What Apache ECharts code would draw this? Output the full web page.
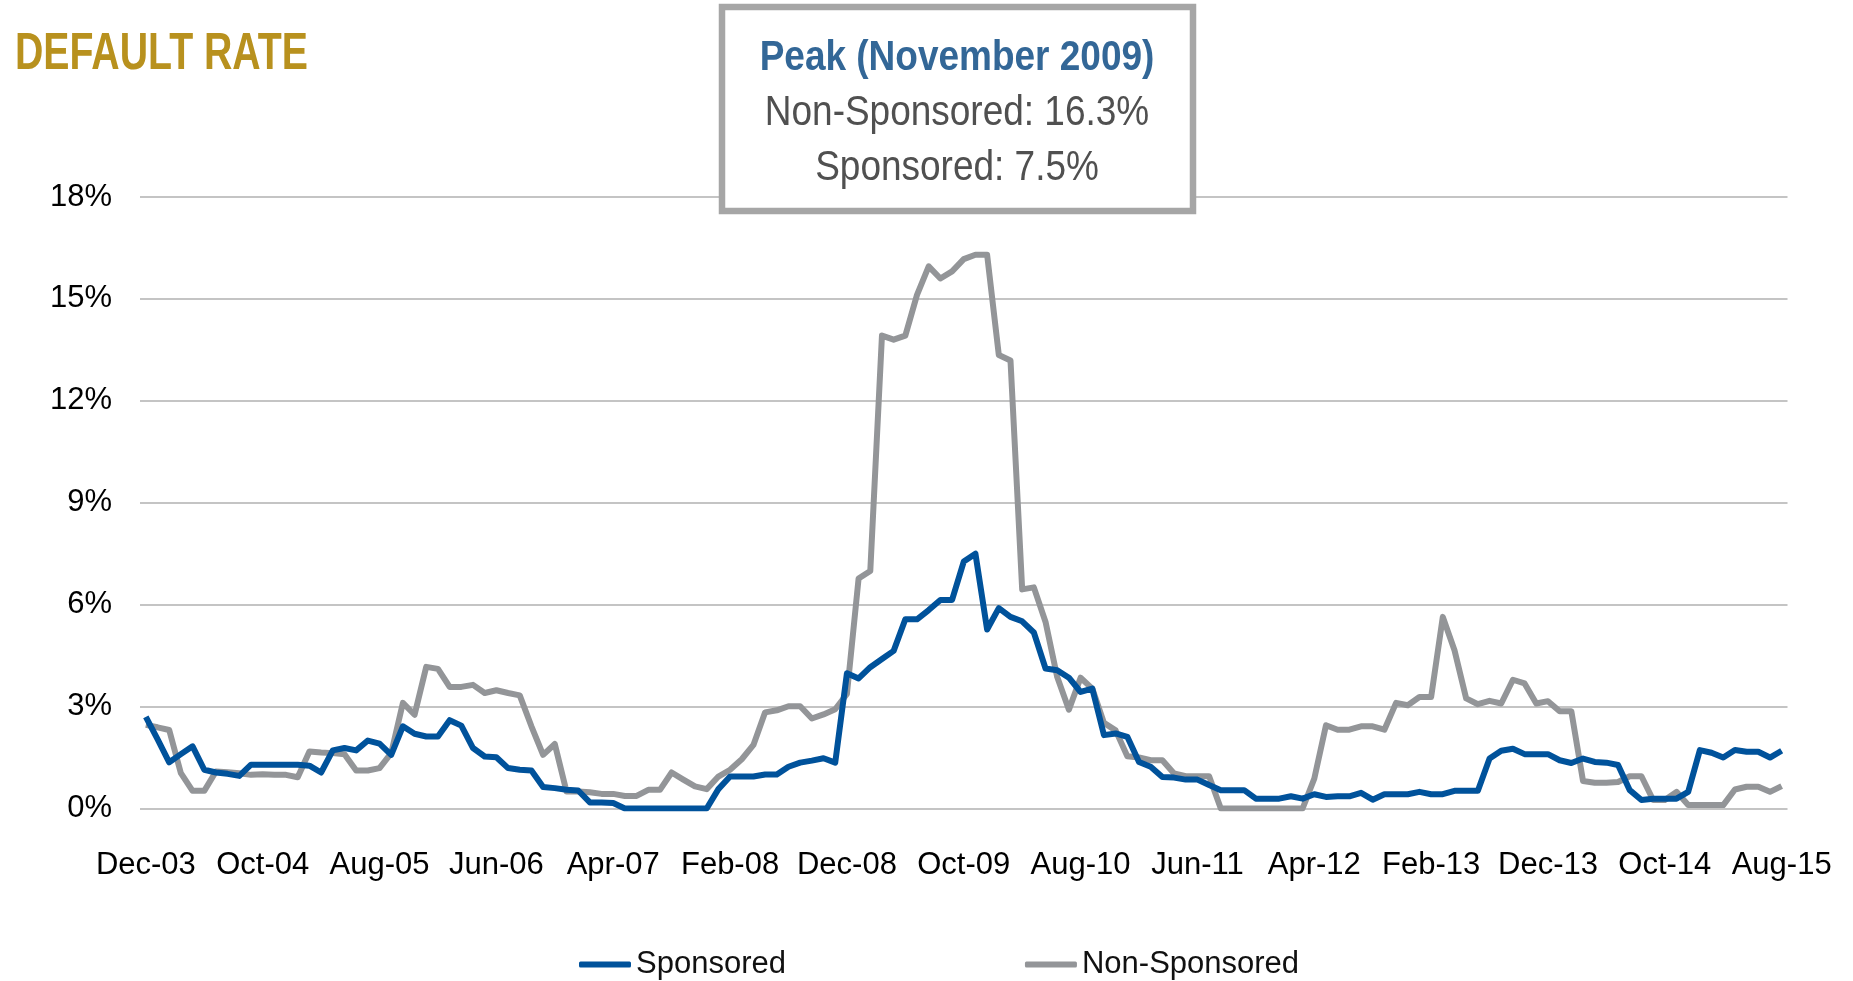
<!DOCTYPE html>
<html>
<head>
<meta charset="utf-8">
<title>Default Rate</title>
<script src="https://cdn.jsdelivr.net/npm/echarts@6/dist/echarts.min.js"></script>
<style>
  html, body { margin: 0; padding: 0; background: #fff; }
  #main { width: 1853px; height: 981px; }
</style>
</head>
<body>
<div id="main"></div>
<script>
// monthly categories, Dec-03 .. Aug-15
var monthNames = ['Jan','Feb','Mar','Apr','May','Jun','Jul','Aug','Sep','Oct','Nov','Dec'];
var months = [];
for (var k = 11; k <= 151; k++) {
  months.push(monthNames[k % 12] + '-' + String(2003 + Math.floor(k / 12)).slice(2));
}

// default rate, %
var sponsored = [
  2.70, 2.04, 1.36, 1.60, 1.83, 1.14, 1.06, 1.02, 0.96, 1.29,
  1.29, 1.29, 1.29, 1.29, 1.26, 1.06, 1.71, 1.78, 1.71, 2.00,
  1.91, 1.58, 2.42, 2.20, 2.12, 2.12, 2.60, 2.44, 1.78, 1.53,
  1.51, 1.19, 1.14, 1.12, 0.63, 0.60, 0.55, 0.53, 0.18, 0.18,
  0.16, 0, 0, 0, 0, 0, 0, 0, 0, 0.57,
  0.94, 0.94, 0.94, 1.00, 1.00, 1.23, 1.35, 1.41, 1.48, 1.35,
  3.98, 3.83, 4.16, 4.40, 4.64, 5.57, 5.57, 5.84, 6.14, 6.14,
  7.27, 7.50, 5.27, 5.90, 5.64, 5.51, 5.18, 4.12, 4.07, 3.85,
  3.43, 3.53, 2.16, 2.21, 2.11, 1.37, 1.23, 0.93, 0.91, 0.85,
  0.85, 0.69, 0.54, 0.54, 0.54, 0.29, 0.29, 0.29, 0.36, 0.29,
  0.42, 0.34, 0.36, 0.36, 0.46, 0.26, 0.42, 0.42, 0.42, 0.49,
  0.42, 0.42, 0.52, 0.52, 0.52, 1.47, 1.70, 1.76, 1.60, 1.60,
  1.60, 1.42, 1.34, 1.47, 1.37, 1.35, 1.28, 0.54, 0.25, 0.29,
  0.29, 0.29, 0.49, 1.72, 1.64, 1.50, 1.72, 1.67, 1.67, 1.50,
  1.70
];

var nonSponsored = [
  2.46, 2.39, 2.31, 1.04, 0.52, 0.52, 1.09, 1.07, 1.04, 0.99,
  1.01, 0.99, 0.99, 0.92, 1.68, 1.65, 1.63, 1.60, 1.12, 1.12,
  1.19, 1.63, 3.11, 2.76, 4.17, 4.11, 3.58, 3.58, 3.64, 3.40,
  3.48, 3.40, 3.33, 2.42, 1.58, 1.90, 0.50, 0.50, 0.48, 0.43,
  0.43, 0.37, 0.37, 0.55, 0.55, 1.06, 0.85, 0.65, 0.57, 0.94,
  1.14, 1.45, 1.87, 2.83, 2.89, 3.01, 3.01, 2.65, 2.77, 2.92,
  3.37, 6.77, 6.99, 13.92, 13.80, 13.92, 15.12, 15.96, 15.60, 15.81,
  16.17, 16.30, 16.30, 13.35, 13.19, 6.45, 6.51, 5.49, 3.87, 2.91,
  3.85, 3.53, 2.52, 2.30, 1.54, 1.50, 1.42, 1.42, 1.03, 0.95,
  0.95, 0.95, 0, 0, 0, 0, 0, 0, 0, 0,
  0.88, 2.45, 2.32, 2.32, 2.42, 2.42, 2.32, 3.11, 3.04, 3.28,
  3.28, 5.64, 4.66, 3.24, 3.07, 3.17, 3.09, 3.79, 3.68, 3.09,
  3.16, 2.86, 2.86, 0.81, 0.76, 0.76, 0.78, 0.95, 0.95, 0.25,
  0.25, 0.49, 0.10, 0.10, 0.10, 0.10, 0.56, 0.64, 0.64, 0.49,
  0.66
];

var peakLines = ['Peak (November 2009)', 'Non-Sponsored: 16.3%', 'Sponsored: 7.5%'];

var font = "'Liberation Sans', Arial, sans-serif";
var blue = '#00529b';
var grey = '#939598';

var myChart = echarts.init(document.getElementById('main'));

var option = {
  animation: false,
  // points sit in the middle of each month slot, like the Excel original
  grid: { left: 140, right: 65.5, top: 197, bottom: 172.5, containLabel: false },
  xAxis: {
    type: 'category',
    data: months,
    boundaryGap: true,
    axisLine: { show: false },
    axisTick: { show: false },
    axisLabel: {
      interval: 9,
      margin: 41,
      color: '#000',
      fontSize: 31,
      fontFamily: font
    }
  },
  yAxis: {
    type: 'value',
    min: 0,
    max: 18,
    interval: 3,
    axisLine: { show: false },
    axisTick: { show: false },
    axisLabel: {
      formatter: '{value}%',
      margin: 28,
      color: '#000',
      fontSize: 31,
      fontFamily: font
    },
    splitLine: { lineStyle: { color: '#c4c4c4', width: 2 } }
  },
  legend: {
    left: 574,
    top: 944,
    itemWidth: 52,
    itemHeight: 6,
    itemGap: 239,
    icon: 'roundRect',
    textStyle: { fontSize: 31, fontFamily: font, color: '#111' },
    data: ['Sponsored', 'Non-Sponsored']
  },
  series: [
    {
      name: 'Sponsored',
      type: 'line',
      data: sponsored,
      symbol: 'none',
      z: 3,
      itemStyle: { color: blue },
      lineStyle: { color: blue, width: 6, join: 'round' }
    },
    {
      name: 'Non-Sponsored',
      type: 'line',
      data: nonSponsored,
      symbol: 'none',
      z: 2,
      itemStyle: { color: grey },
      lineStyle: { color: grey, width: 6, join: 'round' }
    }
  ],
  graphic: [
    {
      // narrow look: regular face squeezed horizontally
      type: 'text',
      x: 15, y: 55,
      scaleX: 0.755,
      z: 100,
      style: { text: 'DEFAULT RATE', fill: '#b8911e', font: "bold 52px " + font, textAlign: 'left', textVerticalAlign: 'middle' }
    },
    {
      type: 'rect',
      z: 100,
      shape: { x: 722, y: 7, width: 471, height: 204 },
      style: { fill: '#fff', stroke: '#a6a6a6', lineWidth: 6.5 }
    },
    {
      type: 'text',
      z: 101,
      x: 957, y: 58.5,
      scaleX: 0.86,
      style: { text: peakLines[0], fill: '#336797', font: "bold 43px " + font, textAlign: 'center', textVerticalAlign: 'middle' }
    },
    {
      type: 'text',
      z: 101,
      x: 957, y: 113.5,
      scaleX: 0.86,
      style: { text: peakLines[1], fill: '#505050', font: "43px " + font, textAlign: 'center', textVerticalAlign: 'middle' }
    },
    {
      type: 'text',
      z: 101,
      x: 957, y: 168,
      scaleX: 0.86,
      style: { text: peakLines[2], fill: '#505050', font: "43px " + font, textAlign: 'center', textVerticalAlign: 'middle' }
    }
  ]
};

myChart.setOption(option);
</script>
</body>
</html>
